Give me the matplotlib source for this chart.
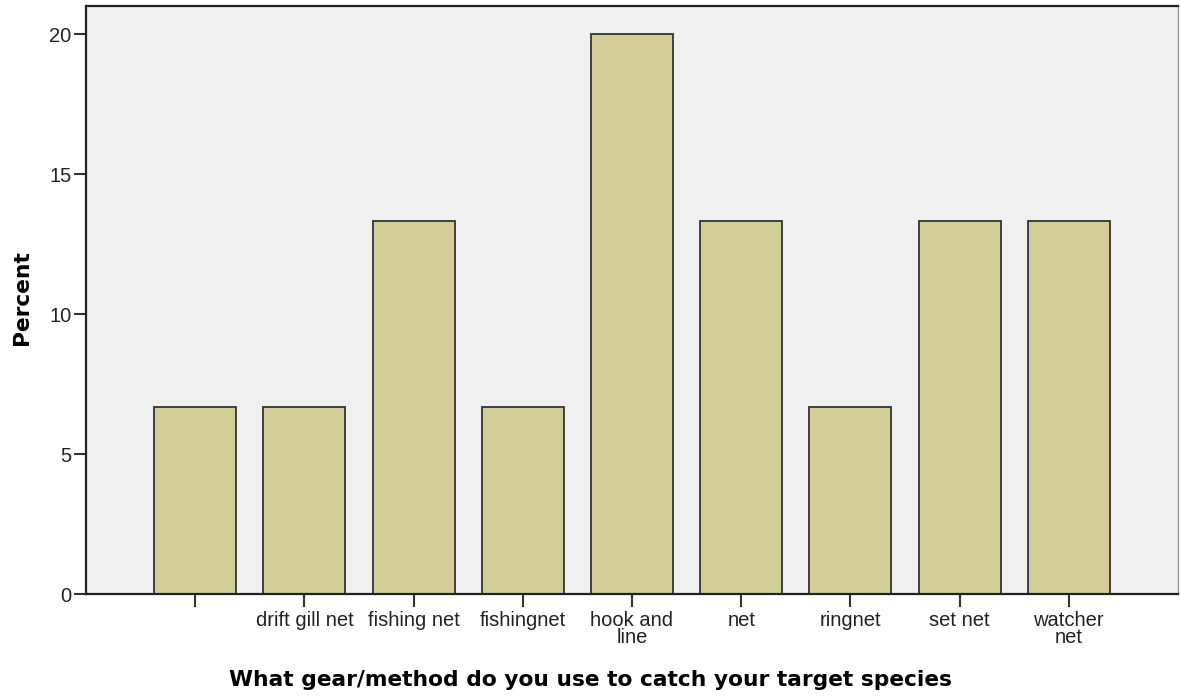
import matplotlib
matplotlib.use("Agg")
import matplotlib.pyplot as plt

categories = ["", "drift gill net", "fishing net", "fishingnet", "hook and\nline",
              "net", "ringnet", "set net", "watcher\nnet"]
percent = [6.67, 6.67, 13.33, 6.67, 20.0, 13.33, 6.67, 13.33, 13.33]
yticks = [0, 5, 10, 15, 20]

W, H = 1180, 697
fig = plt.figure(figsize=(W / 100, H / 100), dpi=100)
fig.patch.set_facecolor("white")
left, right, top, bottom = 86, 1178, 6, 594
ax = fig.add_axes([left / W, 1 - bottom / H, (right - left) / W, (bottom - top) / H])
ax.set_facecolor("#F0F0F0")

x = list(range(len(categories)))
ax.bar(x, percent, width=0.75, color="#D3CE98", edgecolor="#333333", linewidth=1.3, zorder=2)

ax.set_xlim(-1, 9)
ax.set_ylim(0, 21.0)
ax.set_xticks(x)
ax.set_xticklabels(categories, fontfamily="Liberation Sans", fontsize=14.5, linespacing=0.85,
                   color="#222222")
ax.set_yticks(yticks)
ax.set_yticklabels([str(v) for v in yticks], fontfamily="Liberation Sans", fontsize=14.5,
                   color="#222222")
ax.tick_params(axis="x", length=9, width=1.5, color="#333333", pad=3.5)
ax.tick_params(axis="y", length=9, width=1.5, color="#333333", pad=1.5)

for s in ["left", "bottom", "top"]:
    ax.spines[s].set_color("#222222")
    ax.spines[s].set_linewidth(1.6)
ax.spines["right"].set_color("#999999")
ax.spines["right"].set_linewidth(1.0)

ax.set_xlabel("What gear/method do you use to catch your target species",
              fontfamily="DejaVu Sans", fontweight="bold", fontsize=15.7, va="center")
ax.xaxis.set_label_coords((590 - left) / (right - left), (bottom - 680) / (bottom - top))
ax.set_ylabel("Percent", fontfamily="DejaVu Sans", fontweight="bold", fontsize=15.7, va="center")
ax.yaxis.set_label_coords((22 - left) / (right - left), (bottom - 298) / (bottom - top))

fig.savefig("out.png", dpi=100, facecolor="white")
